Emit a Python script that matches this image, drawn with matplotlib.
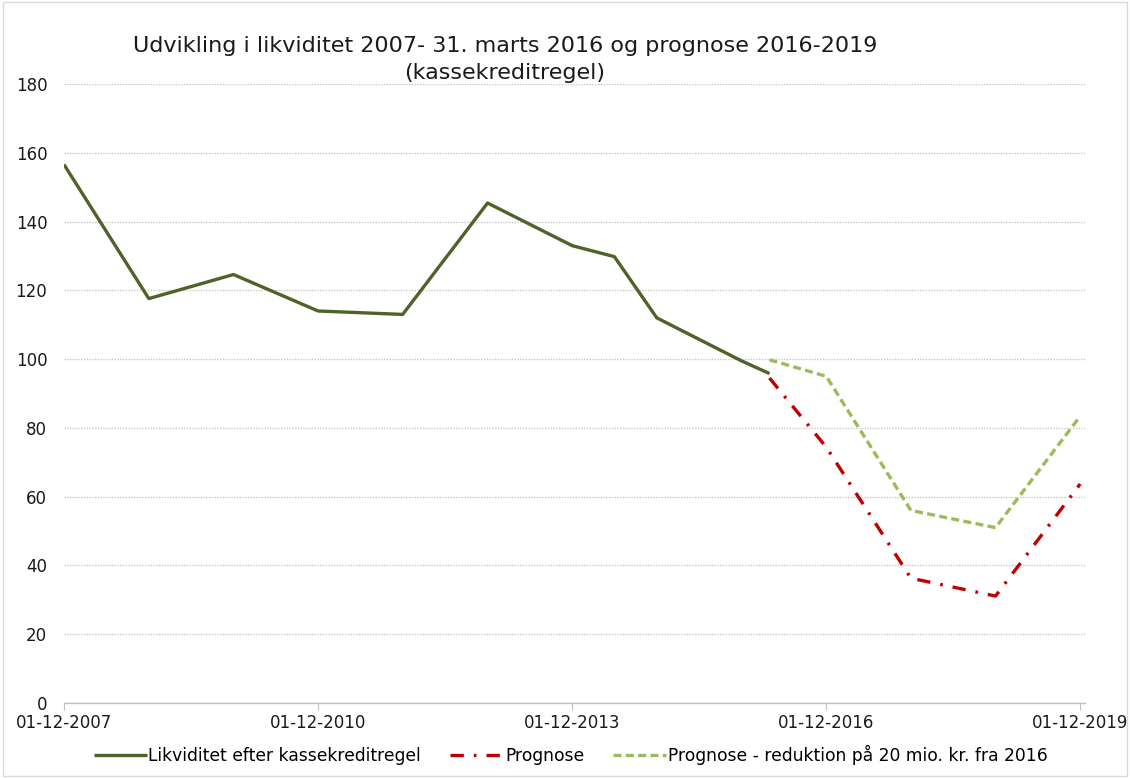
import matplotlib
matplotlib.use("Agg")
import matplotlib.pyplot as plt
import matplotlib.dates as mdates
import pandas as pd
from matplotlib.patches import Rectangle

# data
hist_dates = ["2007-12-01", "2008-12-01", "2009-12-01", "2010-12-01", "2011-12-01",
              "2012-12-01", "2013-12-01", "2014-06-01", "2014-12-01", "2015-12-01",
              "2016-03-31"]
hist_vals = [156.6, 117.6, 124.6, 114.0, 113.0, 145.4, 133.0, 129.8, 112.0, 99.5, 95.8]

prog_dates = ["2016-03-31", "2016-12-01", "2017-12-01", "2018-12-01", "2019-12-01"]
prog_vals = [94.5, 74.4, 36.3, 31.1, 63.7]

prog_red_vals = [99.8, 95.0, 56.0, 51.0, 83.4]

x_ticks = ["2007-12-01", "2010-12-01", "2013-12-01", "2016-12-01", "2019-12-01"]
y_ticks = [0, 20, 40, 60, 80, 100, 120, 140, 160, 180]

hist_x = pd.to_datetime(hist_dates)
prog_x = pd.to_datetime(prog_dates)
tick_x = pd.to_datetime(x_ticks)

DARK_GREEN = "#4F6228"
RED = "#C00000"
LIGHT_GREEN = "#9BBB59"
TXT = "#1A1A1A"

fig = plt.figure(figsize=(11.3, 7.78), dpi=100)
ax = fig.add_axes([0.0566, 0.0964, 0.9034, 0.7956])

ax.plot(hist_x, hist_vals, color=DARK_GREEN, lw=2.4, solid_capstyle="butt",
        label="Likviditet efter kassekreditregel")
ax.plot(prog_x, prog_vals, color=RED, lw=2.4, dashes=(4, 3, 0.8, 3),
        label="Prognose")
ax.plot(prog_x, prog_red_vals, color=LIGHT_GREEN, lw=2.4, dashes=(2.4, 1.3),
        label="Prognose - reduktion på 20 mio. kr. fra 2016")

ax.set_ylim(0, 180)
ax.set_yticks(y_ticks)
ax.set_xlim(tick_x[0], tick_x[-1] + pd.Timedelta(days=20))
ax.set_xticks(tick_x)
ax.xaxis.set_major_formatter(mdates.DateFormatter("%d-%m-%Y"))

ax.grid(axis="y", color="#C8C8C8", ls=(0, (1, 1)), lw=1.0)
ax.set_axisbelow(True)
for s in ["top", "right", "left"]:
    ax.spines[s].set_visible(False)
ax.spines["bottom"].set_color("#BFBFBF")
ax.spines["bottom"].set_linewidth(1.0)
ax.tick_params(axis="y", length=0, pad=12, labelsize=12, labelcolor=TXT)
ax.tick_params(axis="x", length=5, color="#BFBFBF", pad=3, labelsize=12,
               labelcolor=TXT)

fig.text(0.447, 0.941, "Udvikling i likviditet 2007- 31. marts 2016 og prognose 2016-2019",
         ha="center", va="center", fontsize=16, color=TXT)
fig.text(0.447, 0.906, "(kassekreditregel)", ha="center", va="center",
         fontsize=16, color=TXT)

fig.legend(loc="center", bbox_to_anchor=(0.505, 0.029), ncol=3, frameon=False,
           fontsize=12.3, handlelength=3.1, handletextpad=0.1, columnspacing=1.7)

fig.patches.append(Rectangle((0.003, 0.003), 0.994, 0.994, transform=fig.transFigure,
                             fill=False, edgecolor="#D9D9D9", lw=1))

fig.savefig("out.png", dpi=100)
